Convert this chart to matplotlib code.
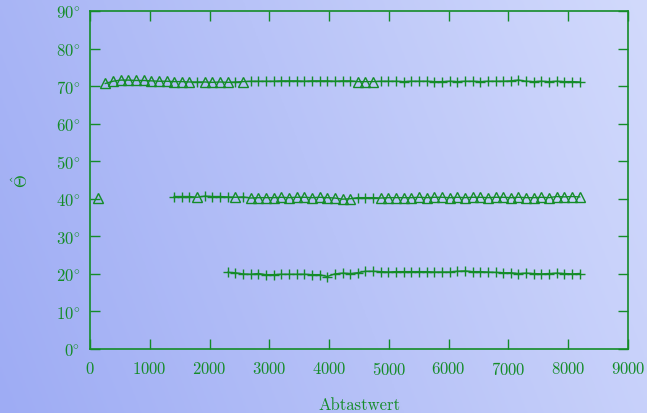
import numpy as np
import matplotlib
matplotlib.use("Agg")
import matplotlib.pyplot as plt

plt.rcParams['font.family'] = ['cmr10', 'DejaVu Serif']
plt.rcParams['mathtext.fontset'] = 'cm'
plt.rcParams['axes.unicode_minus'] = False

GREEN = '#148c28'

# --- data (x in samples, y in degrees) ---
top_x = list(range(256, 8193, 128))
top_y = [70.7, 71.3, 71.6, 71.6, 71.5, 71.5, 71.4, 71.3, 71.3, 71.2, 71.2, 71.1,
         71.1, 71.1, 71.0, 71.1, 71.0, 71.1, 71.2,
         71.3, 71.3, 71.3, 71.3, 71.4, 71.4, 71.4, 71.3, 71.4, 71.4, 71.4, 71.3, 71.4, 71.4,
         71.2, 71.2, 71.2,
         71.3, 71.3, 71.3, 71.2, 71.3, 71.3, 71.3, 71.2, 71.2, 71.3, 71.2, 71.3, 71.3, 71.2,
         71.3, 71.3, 71.3, 71.4, 71.6, 71.3, 71.2, 71.3, 71.2, 71.3, 71.2, 71.2, 71.1]
top_m = "t" * 12 + "+" + "t" * 4 + "+" + "t" + "+" * 14 + "t" * 3 + "+" * 27

mid_x = list(range(1408, 8193, 128))
mid_y = [40.6, 40.6, 40.6, 40.4, 40.7, 40.6, 40.6, 40.5, 40.4, 40.5,
         40.2, 40.3, 40.3, 40.3, 40.4, 40.3, 40.4, 40.4, 40.3, 40.4, 40.3, 40.2, 39.9, 40.0,
         40.3, 40.3, 40.3,
         40.2, 40.3, 40.3, 40.3, 40.3, 40.4, 40.3, 40.4, 40.4, 40.3, 40.4, 40.3, 40.4, 40.4,
         40.3, 40.4, 40.4, 40.3, 40.4, 40.3, 40.3, 40.4, 40.3, 40.6, 40.5, 40.6, 40.5]
mid_m = "+" * 3 + "t" + "+" * 4 + "t" + "+" + "t" * 14 + "+" * 3 + "t" * 27

lone_x = [128]
lone_y = [40.3]

bot_x = list(range(2304, 8193, 128))
bot_y = [20.4, 20.3, 20.0, 19.9, 20.1, 19.8, 19.8, 19.9, 19.9, 19.9, 19.9, 19.8, 19.8,
         19.3, 20.0, 20.2, 20.1, 20.3, 20.7, 20.7, 20.6, 20.5, 20.6, 20.6, 20.6, 20.6,
         20.6, 20.5, 20.5, 20.5, 20.7, 20.8, 20.6, 20.6, 20.5, 20.4, 20.3, 20.3, 20.1,
         20.2, 20.1, 20.0, 20.1, 20.2, 20.1, 20.0, 20.1]
bot_m = "+" * 47

xticks = [0, 1000, 2000, 3000, 4000, 5000, 6000, 7000, 8000, 9000]
yticks = [0, 10, 20, 30, 40, 50, 60, 70, 80, 90]

fig = plt.figure(figsize=(6.47, 4.14), dpi=100)

# background gradient
bg = fig.add_axes([0, 0, 1, 1], zorder=-1)
gx, gy = np.meshgrid(np.linspace(0, 1, 200), np.linspace(0, 1, 200))
t = np.clip(0.8 * gx + 0.2 * gy, 0, 1)
c0 = np.array([158, 172, 244]) / 255.
c1 = np.array([210, 218, 252]) / 255.
img = c0[None, None, :] * (1 - t[..., None]) + c1[None, None, :] * t[..., None]
bg.imshow(img, aspect='auto', extent=[0, 1, 0, 1], origin='lower')
bg.axis('off')

ax = fig.add_axes([90 / 647, 64 / 414, 538 / 647, 338 / 414])
ax.set_facecolor('none')


def draw(xs, ys, marks):
    ax.plot(xs, ys, '-', color=GREEN, lw=1.0)
    xs = np.array(xs)
    ys = np.array(ys)
    m = np.array(list(marks))
    ax.plot(xs[m == 't'], ys[m == 't'], ls='none', marker='^', ms=6.5,
            mfc='none', mec=GREEN, mew=1.0)
    ax.plot(xs[m == '+'], ys[m == '+'], ls='none', marker='+', ms=7.5,
            color=GREEN, mew=1.0)


draw(top_x, top_y, top_m)
draw(mid_x, mid_y, mid_m)
draw(lone_x, lone_y, "t")
draw(bot_x, bot_y, bot_m)

ax.set_xlim(0, 9000)
ax.set_ylim(0, 90)
ax.set_xticks(xticks)
ax.set_xticklabels([r'$%d$' % v for v in xticks])
ax.set_yticks(yticks)
ax.set_yticklabels([r'$%d\!^\circ$' % v for v in yticks])
ax.tick_params(direction='in', length=7, width=1.0, color=GREEN,
               labelcolor=GREEN, labelsize=12, top=True, right=True)
ax.tick_params(axis='x', pad=8)
ax.tick_params(axis='y', pad=7)
for s in ax.spines.values():
    s.set_color(GREEN)
    s.set_linewidth(1.2)

ax.set_xlabel('Abtastwert', color=GREEN, fontsize=12, labelpad=14)
ax.set_ylabel(r'$\hat{\Theta}$', color=GREEN, fontsize=12, labelpad=18)

fig.savefig('out.png', dpi=100)
